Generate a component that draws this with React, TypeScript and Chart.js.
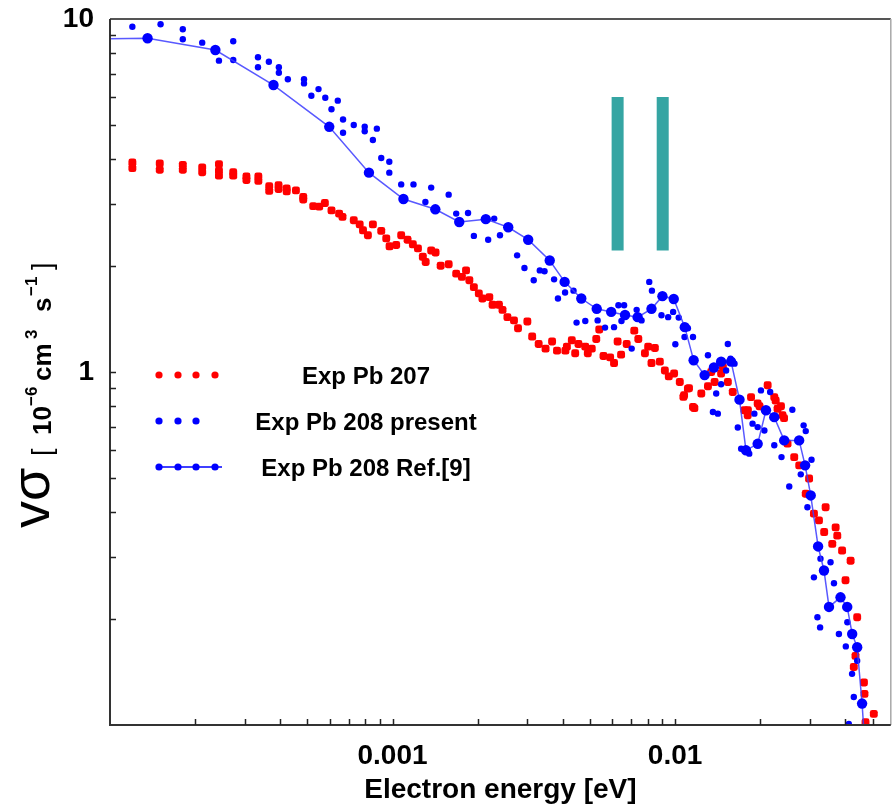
import { useEffect, useRef } from 'react';
import { Chart, registerables } from 'chart.js';

Chart.register(...registerables);

// Axis setup
const xRange = [1e-4, 0.058];
const yRange = [0.1, 10];
const xMajorTicks = [0.001, 0.01];
const xTickLabels = ['0.001', '0.01'];
const yMajorTicks = [1, 10];
const yTickLabels = ['1', '10'];
const xTitle = 'Electron energy [eV]';
const legendLabels = ['Exp Pb 207', 'Exp Pb 208 present', 'Exp Pb 208 Ref.[9]'];

// Resonance position markers: energies [eV] and vertical extent
const markerEnergies = [6.26e-3, 9.04e-3];
const markerSpan = [2.21, 6.01];

// Exp Pb 207: [energy eV, vσ in 1e-6 cm^3 s^-1]
const pb207: [number, number][] = [
  [1.2e-4, 3.92], [1.2e-4, 3.78], [1.5e-4, 3.9], [1.5e-4, 3.74], [1.81e-4, 3.86], [1.81e-4, 3.74],
  [2.12e-4, 3.8], [2.12e-4, 3.68], [2.43e-4, 3.88], [2.43e-4, 3.72], [2.43e-4, 3.6],
  [2.73e-4, 3.68], [2.73e-4, 3.6], [3.04e-4, 3.58], [3.04e-4, 3.5], [3.35e-4, 3.58], [3.35e-4, 3.48],
  [3.66e-4, 3.36], [3.66e-4, 3.26], [3.95e-4, 3.38], [3.95e-4, 3.3], [4.22e-4, 3.31], [4.22e-4, 3.25],
  [4.55e-4, 3.27], [4.83e-4, 3.13], [4.83e-4, 3.08], [5.24e-4, 2.95], [5.5e-4, 2.94], [5.76e-4, 3.01],
  [6.08e-4, 2.87], [6.47e-4, 2.81], [6.65e-4, 2.75], [7.29e-4, 2.69], [7.65e-4, 2.62], [7.86e-4, 2.52],
  [8.18e-4, 2.44], [8.52e-4, 2.62], [9.12e-4, 2.51], [9.5e-4, 2.39], [9.76e-4, 2.27],
  [1.03e-3, 2.29], [1.073e-3, 2.44], [1.13e-3, 2.37], [1.18e-3, 2.3], [1.23e-3, 2.24], [1.28e-3, 2.12],
  [1.31e-3, 2.05], [1.37e-3, 2.21], [1.42e-3, 2.18], [1.48e-3, 2.0], [1.58e-3, 2.02], [1.68e-3, 1.9],
  [1.76e-3, 1.86], [1.82e-3, 1.94], [1.87e-3, 1.82], [1.94e-3, 1.74], [2.02e-3, 1.67], [2.08e-3, 1.615],
  [2.2e-3, 1.63], [2.26e-3, 1.55], [2.38e-3, 1.55], [2.45e-3, 1.5], [2.55e-3, 1.43], [2.69e-3, 1.4],
  [2.78e-3, 1.33], [3.0e-3, 1.39], [3.12e-3, 1.26], [3.29e-3, 1.2], [3.48e-3, 1.165], [3.67e-3, 1.22],
  [3.82e-3, 1.15], [4.09e-3, 1.15], [4.14e-3, 1.18], [4.31e-3, 1.23], [4.43e-3, 1.13], [4.55e-3, 1.2],
  [4.81e-3, 1.18], [4.91e-3, 1.13], [5.07e-3, 1.165], [5.26e-3, 1.24], [5.39e-3, 1.32], [5.58e-3, 1.11],
  [5.89e-3, 1.1], [6.08e-3, 1.06], [6.26e-3, 1.22], [6.44e-3, 1.12], [6.74e-3, 1.2], [7.17e-3, 1.31],
  [7.41e-3, 1.24], [7.82e-3, 1.13], [8.03e-3, 1.18], [8.25e-3, 1.06], [8.48e-3, 1.17], [8.83e-3, 1.07],
  [9.2e-3, 1.01], [9.5e-3, 0.972], [9.92e-3, 0.99], [1.039e-2, 0.937], [1.07e-2, 0.85], [1.076e-2, 0.859],
  [1.11e-2, 0.897], [1.12e-2, 0.9], [1.157e-2, 0.796], [1.17e-2, 0.79], [1.238e-2, 0.869], [1.307e-2, 0.911],
  [1.342e-2, 1.0], [1.38e-2, 0.937], [1.455e-2, 0.99], [1.476e-2, 1.033], [1.537e-2, 0.937], [1.6e-2, 0.878],
  [1.76e-2, 0.779], [1.807e-2, 0.754], [1.81e-2, 0.779], [1.857e-2, 0.849], [1.96e-2, 0.814], [1.99e-2, 0.8],
  [2.126e-2, 0.917], [2.244e-2, 0.849], [2.27e-2, 0.83], [2.305e-2, 0.787], [2.37e-2, 0.8], [2.4e-2, 0.754],
  [2.43e-2, 0.74], [2.5e-2, 0.627], [2.64e-2, 0.574], [2.75e-2, 0.544], [2.9e-2, 0.452], [2.98e-2, 0.499],
  [3.1e-2, 0.397], [3.23e-2, 0.38], [3.37e-2, 0.352], [3.41e-2, 0.414], [3.6e-2, 0.326], [3.7e-2, 0.363],
  [3.75e-2, 0.344], [3.9e-2, 0.312], [4.01e-2, 0.257], [4.18e-2, 0.292], [4.29e-2, 0.146], [4.35e-2, 0.157],
  [4.41e-2, 0.202], [4.66e-2, 0.132], [4.68e-2, 0.1225], [4.72e-2, 0.1018], [5.05e-2, 0.1075],
];

// Exp Pb 208, present measurement
const pb208Present: [number, number][] = [
  [1.2e-4, 9.51], [1.51e-4, 9.66], [1.81e-4, 9.35], [1.81e-4, 8.76], [2.12e-4, 8.57], [2.43e-4, 7.62],
  [2.73e-4, 8.65], [2.73e-4, 7.65], [3.34e-4, 7.79], [3.34e-4, 7.3], [3.65e-4, 7.57], [3.96e-4, 7.3],
  [3.96e-4, 7.04], [4.26e-4, 6.75], [4.86e-4, 6.75], [4.86e-4, 6.57], [5.16e-4, 6.06], [5.47e-4, 6.33],
  [5.78e-4, 5.98], [6.08e-4, 5.55], [6.4e-4, 5.87], [6.68e-4, 5.19], [6.68e-4, 4.76], [7.29e-4, 5.01],
  [7.97e-4, 4.95], [7.97e-4, 4.81], [8.52e-4, 4.54], [8.8e-4, 4.89], [9.12e-4, 4.04], [9.74e-4, 3.94],
  [9.74e-4, 3.67], [1.073e-3, 3.4], [1.186e-3, 3.4], [1.307e-3, 3.03], [1.37e-3, 3.33], [1.58e-3, 3.18],
  [1.68e-3, 2.81], [1.85e-3, 2.82], [1.94e-3, 2.43], [2.18e-3, 2.37], [2.29e-3, 2.72], [2.4e-3, 2.44],
  [2.76e-3, 2.14], [2.93e-3, 1.97], [3.16e-3, 1.82], [3.32e-3, 1.94], [3.45e-3, 1.93], [3.73e-3, 1.83],
  [3.85e-3, 1.615], [4.08e-3, 1.68], [4.37e-3, 1.7], [4.48e-3, 1.38], [4.81e-3, 1.395], [5.32e-3, 1.4],
  [5.65e-3, 1.336], [6.08e-3, 1.34], [6.3e-3, 1.546], [6.46e-3, 1.395], [6.6e-3, 1.546], [7.02e-3, 1.165],
  [7.31e-3, 1.5], [7.61e-3, 1.4], [8.1e-3, 1.8], [8.28e-3, 1.7], [8.95e-3, 1.448], [9.45e-3, 1.43],
  [9.84e-3, 1.48], [1.002e-2, 1.198], [1.03e-2, 1.426], [1.08e-2, 1.257], [1.11e-2, 1.33], [1.157e-2, 1.257],
  [1.307e-2, 1.115], [1.361e-2, 0.77], [1.369e-2, 1.029], [1.398e-2, 0.869], [1.417e-2, 0.762],
  [1.455e-2, 0.923], [1.516e-2, 1.01], [1.537e-2, 1.2], [1.571e-2, 1.09], [1.623e-2, 1.056],
  [1.667e-2, 0.696], [1.713e-2, 0.606], [1.83e-2, 0.587], [1.88e-2, 0.714], [1.908e-2, 0.762],
  [1.96e-2, 0.698], [2.013e-2, 0.887], [2.07e-2, 0.683], [2.17e-2, 0.878], [2.244e-2, 0.62],
  [2.38e-2, 0.574], [2.535e-2, 0.474], [2.6e-2, 0.782], [2.785e-2, 0.513], [2.85e-2, 0.706],
  [2.9e-2, 0.68], [2.94e-2, 0.414], [3.04e-2, 0.564], [3.1e-2, 0.262], [3.19e-2, 0.202], [3.26e-2, 0.189],
  [3.27e-2, 0.296], [3.55e-2, 0.289], [3.65e-2, 0.252], [3.8e-2, 0.181], [4.02e-2, 0.167],
  [4.07e-2, 0.1955], [4.12e-2, 0.1007], [4.23e-2, 0.1396], [4.29e-2, 0.12], [4.41e-2, 0.152],
];

// Exp Pb 208, Ref.[9]
const pb208Ref9: [number, number][] = [
  [9.0e-5, 8.78], [1.358e-4, 8.82], [2.36e-4, 8.17], [3.79e-4, 6.5], [5.97e-4, 4.95], [8.25e-4, 3.67],
  [1.093e-3, 3.09], [1.417e-3, 2.89], [1.722e-3, 2.66], [2.138e-3, 2.71], [2.567e-3, 2.57], [3.02e-3, 2.37],
  [3.6e-3, 2.07], [4.065e-3, 1.8], [4.656e-3, 1.615], [5.28e-3, 1.51], [5.94e-3, 1.48], [6.65e-3, 1.45],
  [7.37e-3, 1.43], [8.25e-3, 1.51], [9.02e-3, 1.64], [9.89e-3, 1.61], [1.082e-2, 1.34], [1.163e-2, 1.08],
  [1.272e-2, 0.98], [1.372e-2, 1.03], [1.455e-2, 1.07], [1.578e-2, 1.07], [1.69e-2, 0.835], [1.782e-2, 0.6],
  [1.96e-2, 0.626], [2.097e-2, 0.779], [2.244e-2, 0.745], [2.433e-2, 0.64], [2.748e-2, 0.64],
  [2.885e-2, 0.544], [3.02e-2, 0.447], [3.207e-2, 0.3205], [3.365e-2, 0.274], [3.505e-2, 0.216],
  [3.85e-2, 0.23], [4.066e-2, 0.216], [4.234e-2, 0.181], [4.41e-2, 0.166], [4.59e-2, 0.115], [4.67e-2, 0.093],
];

const FONT = "'Liberation Sans', Arial, Helvetica, sans-serif";
const RED = '#ff0000';
const BLUE = '#0000ff';
const TEAL = '#35a5a3';

const toPoints = (rows: [number, number][]) => rows.map(([x, y]) => ({ x, y }));

// every mantissa 1..9 per decade inside the range
function decadeTicks(min: number, max: number) {
  const out: number[] = [];
  for (let e = Math.floor(Math.log10(min)); e <= Math.ceil(Math.log10(max)); e++) {
    for (let m = 1; m <= 9; m++) {
      const v = Number((m * Math.pow(10, e)).toPrecision(6));
      if (v >= min * 0.9999 && v <= max * 1.0001) out.push(v);
    }
  }
  return out;
}

const labelFor = (values: number[], labels: string[]) => (v: number | string) => {
  const n = Number(v);
  const i = values.findIndex((t) => Math.abs(t - n) / t < 1e-6);
  return i >= 0 ? labels[i] : '';
};

// rotated text piece, starting at (x, y) and running upward
function upText(ctx: CanvasRenderingContext2D, text: string, font: string, x: number, y: number) {
  ctx.save();
  ctx.translate(x, y);
  ctx.rotate(-Math.PI / 2);
  ctx.font = font;
  ctx.textAlign = 'left';
  ctx.textBaseline = 'alphabetic';
  ctx.fillText(text, 0, 0);
  ctx.restore();
}

const framePlugin = {
  id: 'frame',
  afterDraw(chart: any) {
    const { ctx, chartArea: a, scales } = chart;
    ctx.save();

    // box
    ctx.strokeStyle = '#555';
    ctx.lineWidth = 2;
    ctx.beginPath();
    ctx.moveTo(a.left, a.top);
    ctx.lineTo(a.right, a.top);
    ctx.stroke();
    ctx.strokeStyle = '#a8a8a8';
    ctx.lineWidth = 1.5;
    ctx.beginPath();
    ctx.moveTo(a.right, a.top);
    ctx.lineTo(a.right, a.bottom);
    ctx.stroke();
    ctx.strokeStyle = '#333';
    ctx.lineWidth = 2;
    ctx.beginPath();
    ctx.moveTo(a.left, a.top);
    ctx.lineTo(a.left, a.bottom);
    ctx.lineTo(a.right, a.bottom);
    ctx.stroke();

    // inward tick marks
    ctx.lineWidth = 1.5;
    ctx.strokeStyle = '#222';
    ctx.beginPath();
    for (const t of scales.x.ticks) {
      const px = Math.round(scales.x.getPixelForValue(t.value)) + 0.5;
      if (px < a.left + 2 || px > a.right - 2) continue;
      ctx.moveTo(px, a.bottom);
      ctx.lineTo(px, a.bottom - 6);
    }
    for (const t of scales.y.ticks) {
      const py = Math.round(scales.y.getPixelForValue(t.value)) + 0.5;
      if (py < a.top + 2 || py > a.bottom - 2) continue;
      ctx.moveTo(a.left, py);
      ctx.lineTo(a.left + 6, py);
    }
    ctx.stroke();

    // key
    const rows = [375, 421, 467];
    const dotsX = [159, 178, 196, 215];
    ctx.fillStyle = RED;
    for (const x of dotsX) {
      ctx.beginPath();
      ctx.arc(x, rows[0], 3.6, 0, Math.PI * 2);
      ctx.fill();
    }
    ctx.fillStyle = BLUE;
    for (const x of dotsX.slice(0, 3)) {
      ctx.beginPath();
      ctx.arc(x, rows[1], 3.6, 0, Math.PI * 2);
      ctx.fill();
    }
    ctx.strokeStyle = BLUE;
    ctx.lineWidth = 1.5;
    ctx.beginPath();
    ctx.moveTo(156, rows[2]);
    ctx.lineTo(222, rows[2]);
    ctx.stroke();
    for (const x of dotsX) {
      ctx.beginPath();
      ctx.arc(x, rows[2], 3.6, 0, Math.PI * 2);
      ctx.fill();
    }
    ctx.fillStyle = '#000';
    ctx.font = `bold 24px ${FONT}`;
    ctx.textAlign = 'center';
    ctx.textBaseline = 'alphabetic';
    legendLabels.forEach((txt, i) => ctx.fillText(txt, 366, rows[i] + 9));

    // y axis title
    ctx.fillStyle = '#000';
    upText(ctx, 'vσ', `54px ${FONT}`, 49, 528);
    upText(ctx, '[', `27px ${FONT}`, 51, 456);
    upText(ctx, '10', `bold 26px ${FONT}`, 51, 435);
    upText(ctx, '−6', `bold 17px ${FONT}`, 37, 406);
    upText(ctx, 'cm', `bold 26px ${FONT}`, 51, 381);
    upText(ctx, '3', `bold 17px ${FONT}`, 37, 339);
    upText(ctx, 's', `bold 26px ${FONT}`, 51, 312);
    upText(ctx, '−1', `bold 17px ${FONT}`, 37, 296);
    upText(ctx, ']', `27px ${FONT}`, 51, 270);

    ctx.restore();
  },
};

export default function App() {
  const canvasRef = useRef<HTMLCanvasElement | null>(null);

  useEffect(() => {
    const canvas = canvasRef.current;
    if (!canvas) return;

    const markerSets = markerEnergies.map((e) => ({
      label: 'marker',
      data: [{ x: e, y: markerSpan[0] }, { x: e, y: markerSpan[1] }],
      showLine: true,
      borderColor: TEAL,
      backgroundColor: TEAL,
      borderWidth: 12,
      borderCapStyle: 'butt',
      pointRadius: 0,
      order: 5,
    }));

    const chart = new Chart(canvas, {
      type: 'scatter',
      data: {
        datasets: [
          ...markerSets,
          {
            label: legendLabels[0],
            data: toPoints(pb207),
            backgroundColor: RED,
            borderColor: RED,
            pointStyle: 'rectRounded',
            pointRadius: 4.6,
            pointBorderWidth: 0,
            order: 3,
          },
          {
            label: legendLabels[1],
            data: toPoints(pb208Present),
            backgroundColor: BLUE,
            borderColor: BLUE,
            pointStyle: 'circle',
            pointRadius: 3.2,
            pointBorderWidth: 0,
            order: 2,
          },
          {
            label: legendLabels[2],
            data: toPoints(pb208Ref9),
            showLine: true,
            borderColor: 'rgba(60,60,255,0.85)',
            borderWidth: 1.5,
            backgroundColor: BLUE,
            pointBackgroundColor: BLUE,
            pointBorderColor: BLUE,
            pointRadius: 5.2,
            pointBorderWidth: 0,
            order: 1,
          },
        ] as any,
      },
      options: {
        responsive: false,
        animation: false,
        events: [],
        layout: { padding: { top: 19, right: 1, left: 0, bottom: 0 } },
        plugins: { legend: { display: false }, tooltip: { enabled: false } },
        scales: {
          x: {
            type: 'logarithmic',
            min: xRange[0],
            max: xRange[1],
            afterBuildTicks: (s: any) => {
              s.ticks = decadeTicks(xRange[0], xRange[1]).map((value) => ({ value }));
            },
            afterFit: (s: any) => {
              s.height = 83;
              s.paddingLeft = 0;
              s.paddingRight = 0;
            },
            grid: { display: false, drawTicks: false },
            border: { display: false },
            ticks: {
              autoSkip: false,
              maxRotation: 0,
              padding: 14,
              color: '#000',
              font: { family: FONT, size: 28, weight: 'bold' },
              callback: labelFor(xMajorTicks, xTickLabels),
            },
            title: {
              display: true,
              text: xTitle,
              color: '#000',
              font: { family: FONT, size: 28, weight: 'bold' },
              padding: { top: 0, bottom: 1 },
            },
          },
          y: {
            type: 'logarithmic',
            min: yRange[0],
            max: yRange[1],
            afterBuildTicks: (s: any) => {
              s.ticks = decadeTicks(yRange[0], yRange[1]).map((value) => ({ value }));
            },
            afterFit: (s: any) => {
              s.width = 110;
              s.paddingTop = 0;
              s.paddingBottom = 0;
            },
            grid: { display: false, drawTicks: false },
            border: { display: false },
            ticks: {
              autoSkip: false,
              padding: 16,
              color: '#000',
              font: { family: FONT, size: 28, weight: 'bold' },
              callback: labelFor(yMajorTicks, yTickLabels),
            },
          },
        },
      } as any,
      plugins: [framePlugin],
    });

    return () => chart.destroy();
  }, []);

  return (
    <div style={{ position: 'absolute', left: 0, top: 0, width: 896, height: 808, background: '#fff' }}>
      <canvas ref={canvasRef} width={896} height={808} style={{ display: 'block' }} />
    </div>
  );
}
